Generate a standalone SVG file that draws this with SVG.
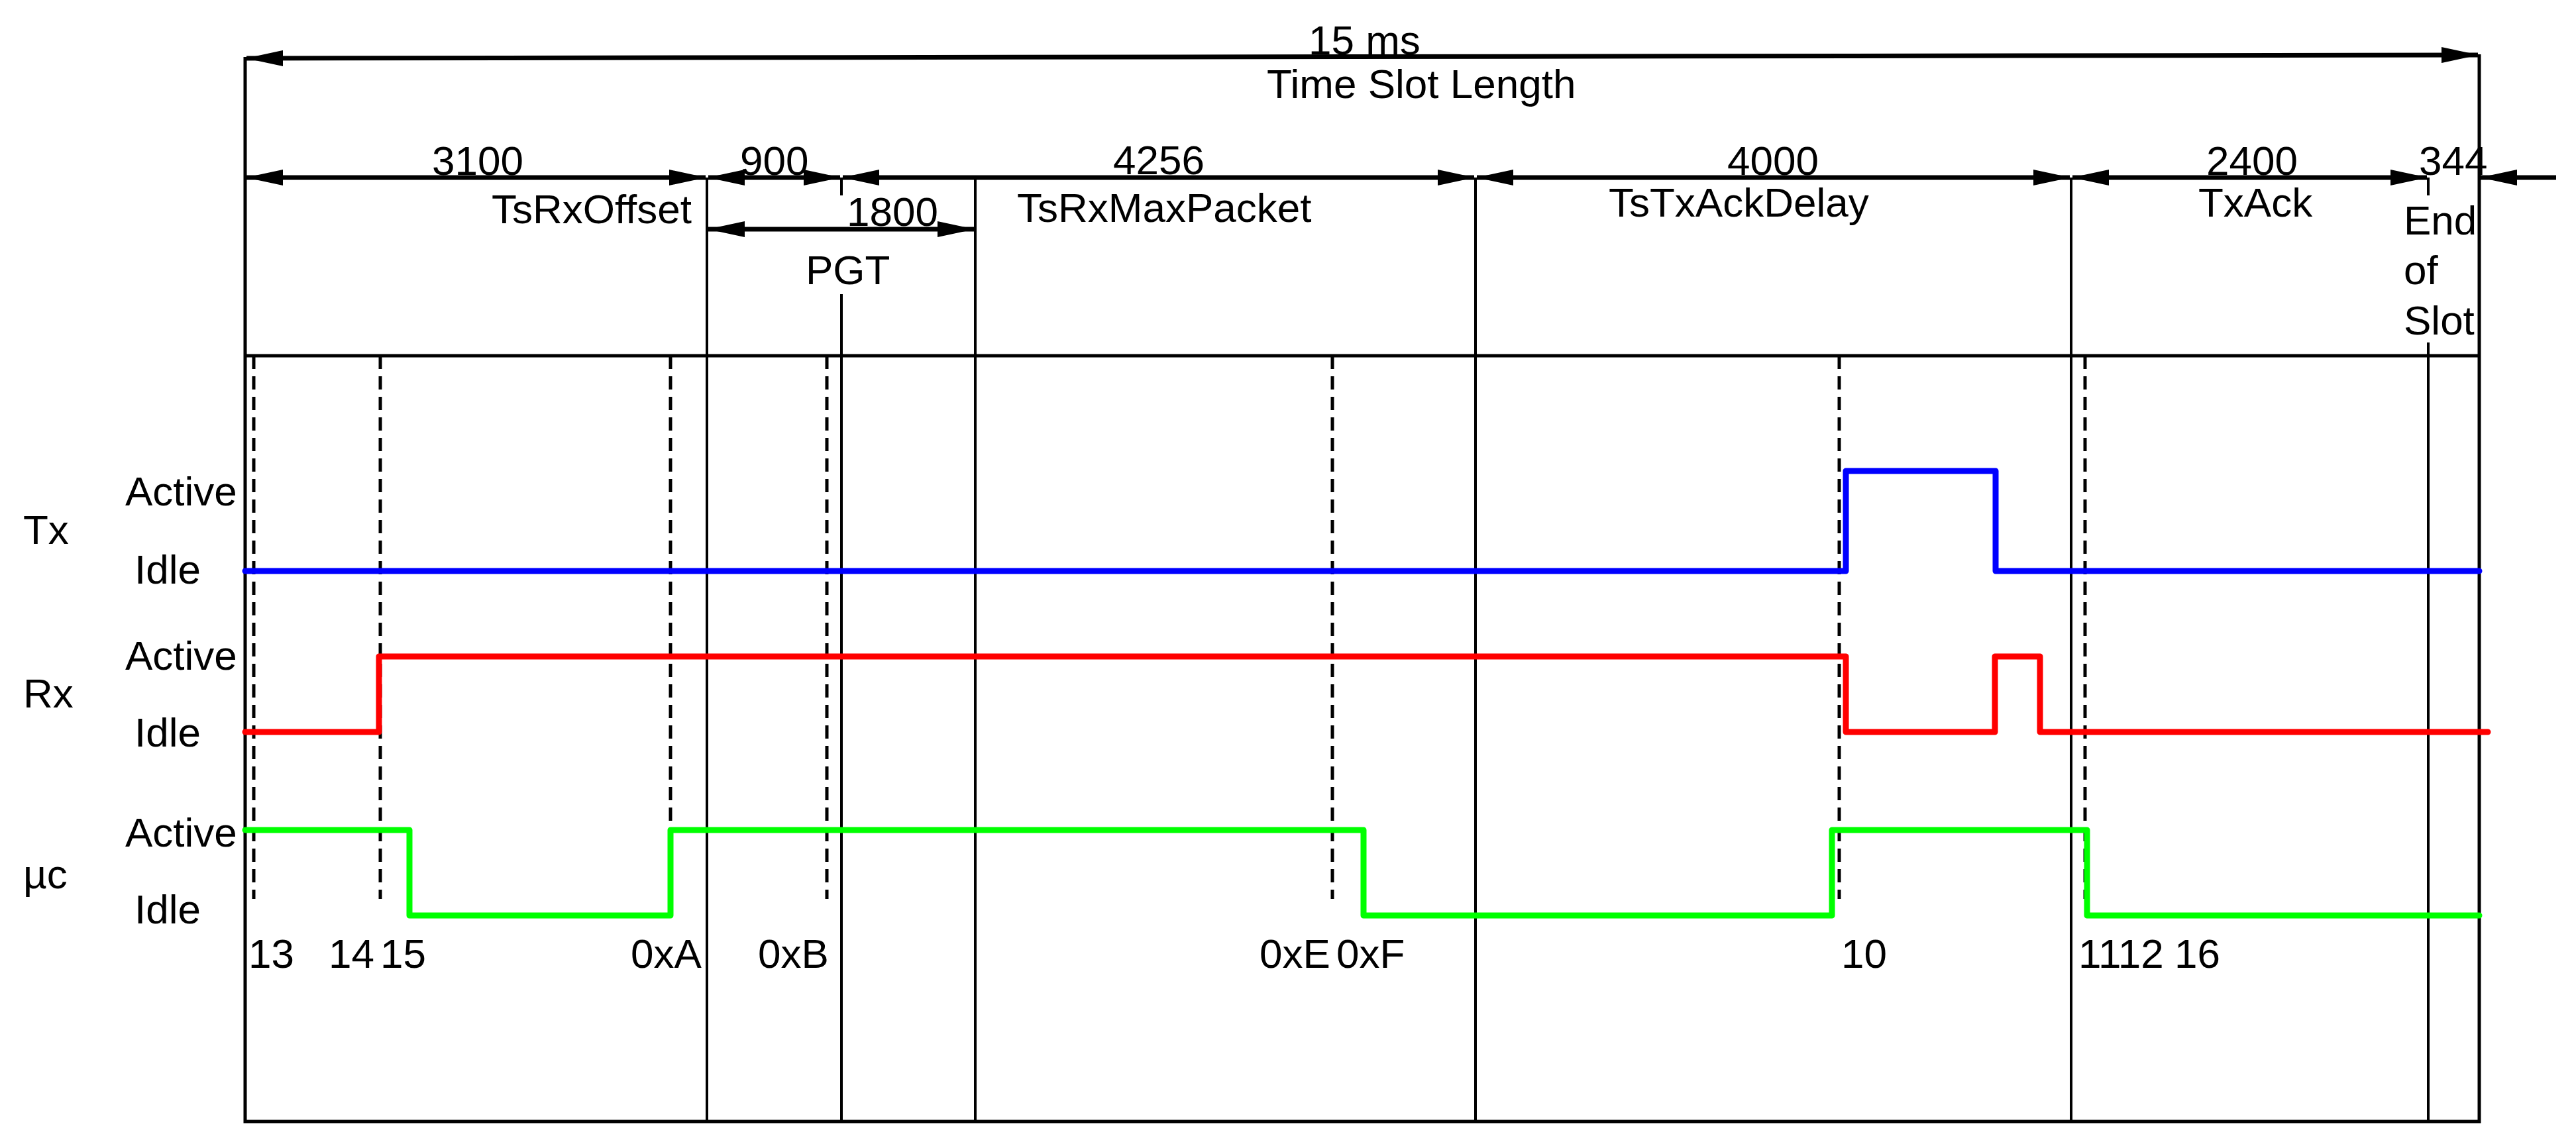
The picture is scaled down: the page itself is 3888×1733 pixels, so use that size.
<svg xmlns="http://www.w3.org/2000/svg" width="3888" height="1733" viewBox="0 0 3888 1733">
<style>
text{font-family:"Liberation Sans",Arial,sans-serif;font-size:62px;fill:#000}
.b{stroke:#000;stroke-width:5;fill:none}
.t{stroke:#000;stroke-width:4;fill:none}
.d{stroke:#000;stroke-width:5;fill:none;stroke-dasharray:20,11}
.a{stroke:#000;stroke-width:7;fill:none;marker-start:url(#h);marker-end:url(#h)}
.w{fill:none;stroke-width:9;stroke-linejoin:round;stroke-linecap:round}
</style>
<defs>
<marker id="h" markerUnits="userSpaceOnUse" markerWidth="56" markerHeight="24" refX="55" refY="12" orient="auto-start-reverse" viewBox="0 0 56 24">
<path d="M0,0 L56,12 L0,24 Z" fill="#000"/>
</marker>
</defs>
<rect width="3888" height="1733" fill="#fff"/>
<g id="frame">
<path class="b" d="M370,86 V1693 H3742 V82"/>
<path class="b" d="M370,537 H3742"/>
<path class="t" d="M1067,268 V1693 M1270,268 V295 M1270,444 V1693 M1472,268 V1693 M2227,268 V1693 M3126,268 V1693 M3665,268 V295 M3665,517 V1693"/>
</g>
<g id="connectors">
<line class="a" x1="372" y1="88" x2="3740" y2="83"/>
<line class="a" x1="372" y1="268" x2="1065" y2="268"/>
<line class="a" x1="1069" y1="268" x2="1268" y2="268"/>
<line class="a" x1="1272" y1="268" x2="2225" y2="268"/>
<line class="a" x1="2229" y1="268" x2="3124" y2="268"/>
<line class="a" x1="3128" y1="268" x2="3663" y2="268"/>
<path d="M3858,268 H3744" stroke="#000" stroke-width="7" marker-end="url(#h)"/>
<line class="a" x1="1069" y1="346" x2="1470" y2="346"/>
</g>
<g id="dashes">
<path class="d" d="M383,537 V1357 M574,537 V1357 M1012,537 V1357 M1248,537 V1357 M2011,537 V1357 M2776,537 V1357 M3147,537 V1357"/>
</g>
<g id="tx"><path class="w" stroke="#0000ff" d="M370,862 H2786 V711 H3012 V862 H3742"/></g>
<g id="rx"><path class="w" stroke="#ff0000" d="M370,1105 H572 V991 H2786 V1105 H3011 V991 H3079 V1105 H3755"/></g>
<g id="uc"><path class="w" stroke="#00ff00" d="M370,1253 H618 V1382 H1012 V1253 H2058 V1382 H2765 V1253 H3150 V1382 H3742"/></g>
<g id="labels">
<text x="1975" y="82">15 ms</text>
<text x="1912" y="148">Time Slot Length</text>
<text x="652" y="264">3100</text>
<text x="1117" y="264">900</text>
<text x="1044" y="337" text-anchor="end">TsRxOffset</text>
<text x="1278" y="341">1800</text>
<text x="1216" y="429">PGT</text>
<text x="1680" y="263">4256</text>
<text x="1535" y="335">TsRxMaxPacket</text>
<text x="2607" y="264">4000</text>
<text x="2428" y="327">TsTxAckDelay</text>
<text x="3330" y="264">2400</text>
<text x="3318" y="327">TxAck</text>
<text x="3651" y="264">344</text>
<text x="3628" y="354">End</text>
<text x="3628" y="429">of</text>
<text x="3628" y="505">Slot</text>
<text x="35" y="821">Tx</text>
<text x="35" y="1068">Rx</text>
<text x="35" y="1341">µc</text>
<text x="189" y="763">Active</text>
<text x="189" y="1011">Active</text>
<text x="189" y="1278">Active</text>
<text x="203" y="881">Idle</text>
<text x="203" y="1127">Idle</text>
<text x="203" y="1394">Idle</text>
<text x="375" y="1461">13</text>
<text x="496" y="1461">14</text>
<text x="574" y="1461">15</text>
<text x="952" y="1461">0xA</text>
<text x="1144" y="1461">0xB</text>
<text x="1901" y="1461">0xE</text>
<text x="2017" y="1461">0xF</text>
<text x="2779" y="1461">10</text>
<text x="3137" y="1461">1112</text>
<text x="3282" y="1461">16</text>
</g>
</svg>
